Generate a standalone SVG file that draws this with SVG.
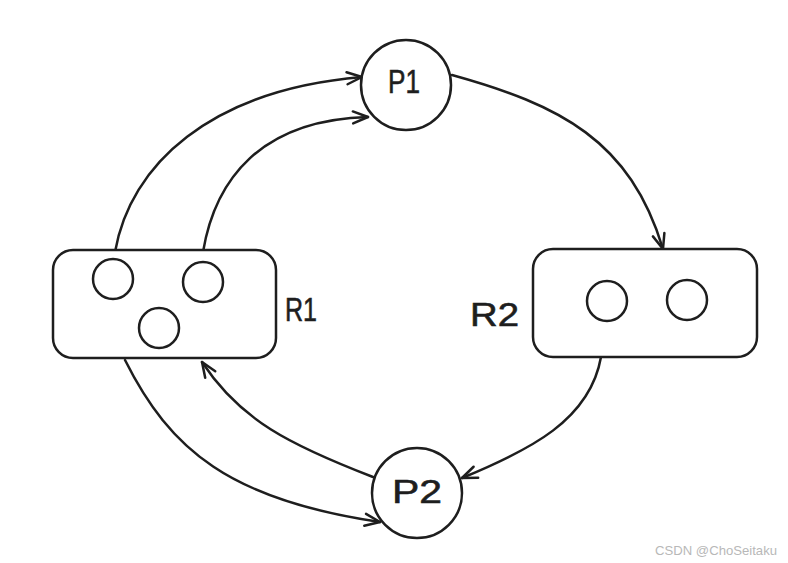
<svg xmlns="http://www.w3.org/2000/svg" width="788" height="563" viewBox="0 0 788 563">
<style>
.s{fill:none;stroke:#1e1e1e;stroke-width:2.5;stroke-linecap:round;stroke-linejoin:round}
.n{fill:#ffffff;stroke:#1e1e1e;stroke-width:2.5}
.t{font-family:"Liberation Sans",Arial,sans-serif;font-size:34px;fill:#1e1e1e;stroke:#1e1e1e;stroke-width:0.6}
.w{font-family:"Liberation Sans",Arial,sans-serif;font-size:13px;fill:#b8b8b8}
</style>
<defs>
<marker id="ah" markerUnits="userSpaceOnUse" markerWidth="30" markerHeight="30" refX="0" refY="0" viewBox="-20 -15 30 30" orient="auto" overflow="visible">
<path d="M-15,-6 L0,0 L-15,6" fill="none" stroke="#1e1e1e" stroke-width="2.5" stroke-linecap="round" stroke-linejoin="round"/>
</marker>
</defs>
<rect width="788" height="563" fill="#ffffff"/>
<g id="connectors">
<path class="s" d="M115,252 C130,165 210,90 362,77" marker-end="url(#ah)"/>
<path class="s" d="M203,252 C215,180 260,120 368,117" marker-end="url(#ah)"/>
<path class="s" d="M452,75 C560,105 630,140 663,249" marker-end="url(#ah)"/>
<path class="s" d="M601,357 C590,420 530,450 462,478" marker-end="url(#ah)"/>
<path class="s" d="M373,477 C290,445 240,420 202,362" marker-end="url(#ah)"/>
<path class="s" d="M125,360 C170,450 230,500 380,522" marker-end="url(#ah)"/>
</g>
<g id="P1">
<circle class="n" cx="406" cy="85" r="45"/>
<text class="t" x="388" y="93" textLength="32" lengthAdjust="spacingAndGlyphs">P1</text>
</g>
<g id="R1">
<rect class="n" x="53" y="250" width="223" height="108" rx="20"/>
<circle class="n" cx="113" cy="279" r="20"/>
<circle class="n" cx="203" cy="282" r="20"/>
<circle class="n" cx="159" cy="328" r="20"/>
<text class="t" x="285" y="321" textLength="32" lengthAdjust="spacingAndGlyphs">R1</text>
</g>
<g id="R2">
<rect class="n" x="533" y="249" width="224" height="108" rx="20"/>
<circle class="n" cx="607" cy="301" r="20"/>
<circle class="n" cx="687" cy="300" r="20"/>
<text class="t" x="470" y="326" textLength="49" lengthAdjust="spacingAndGlyphs">R2</text>
</g>
<g id="P2">
<circle class="n" cx="417" cy="493" r="45"/>
<text class="t" x="392" y="503" textLength="50" lengthAdjust="spacingAndGlyphs">P2</text>
</g>
<text class="w" x="655" y="555" textLength="122" lengthAdjust="spacingAndGlyphs">CSDN @ChoSeitaku</text>
</svg>
